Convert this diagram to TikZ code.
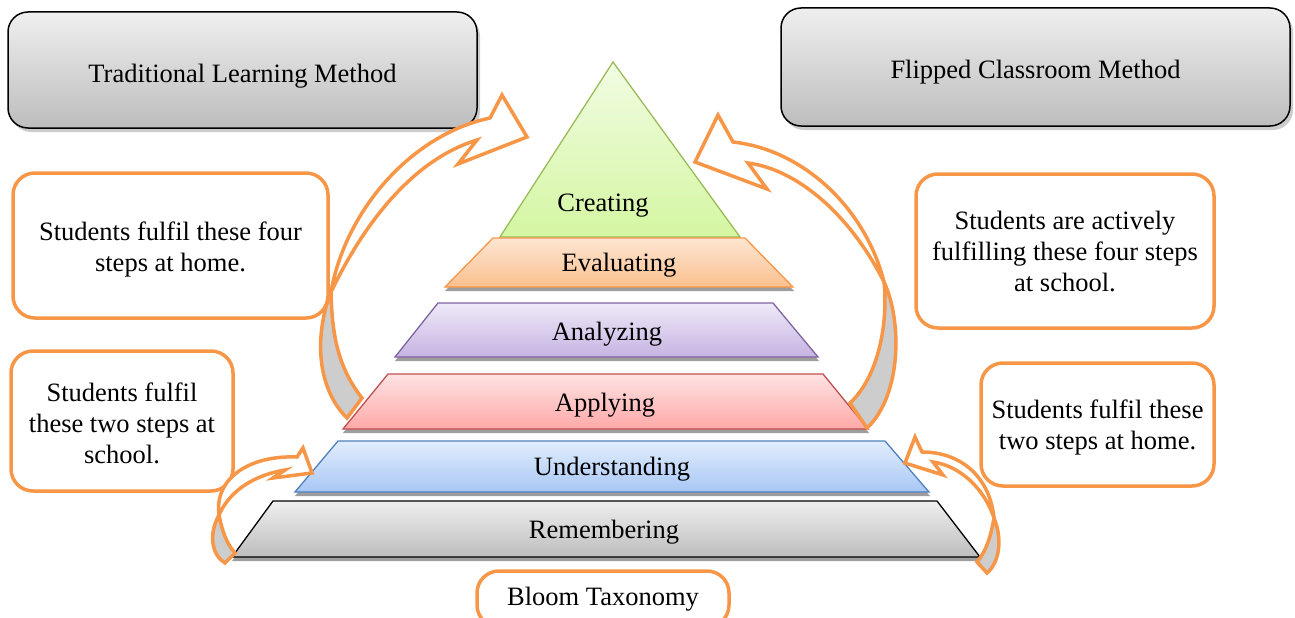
\documentclass[tikz,border=0pt]{standalone}
\usepackage{fontspec}
\setmainfont{Liberation Serif}
\usetikzlibrary{shadows}

% layer colours: T = top of the shading, B = bottom, L = outline
\definecolor{creaT}{HTML}{F1FCE3}
\definecolor{creaB}{HTML}{D4F6A2}
\definecolor{creaL}{HTML}{9BBB59}
\definecolor{evalT}{HTML}{FDE6D3}
\definecolor{evalB}{HTML}{FBC08E}
\definecolor{evalL}{HTML}{F79646}
\definecolor{analT}{HTML}{EFE9F8}
\definecolor{analB}{HTML}{C6B3E2}
\definecolor{analL}{HTML}{8064A2}
\definecolor{applT}{HTML}{FEE3E3}
\definecolor{applB}{HTML}{FFA8A8}
\definecolor{applL}{HTML}{C0504D}
\definecolor{undeT}{HTML}{E2EDFD}
\definecolor{undeB}{HTML}{A8C7F5}
\definecolor{undeL}{HTML}{4F81BD}
\definecolor{remeT}{HTML}{EFEFEF}
\definecolor{remeB}{HTML}{BDBDBD}
\definecolor{remeL}{HTML}{000000}
\definecolor{noteL}{HTML}{F79646}
\definecolor{backF}{HTML}{CDCDCD}

\tikzset{
  header/.style    = {draw=black, line width=1.5pt, rounded corners=20pt,
                      top color=remeT, bottom color=remeB,
                      drop shadow={shadow xshift=3pt, shadow yshift=-4pt,
                                   fill=black!40}},
  note/.style      = {draw=noteL, line width=3.5pt, rounded corners=22pt,
                      fill=white, align=center, inner sep=0pt},
  bendfront/.style = {draw=noteL, line width=3.5pt, fill=white,
                      line join=miter},
  bendback/.style  = {bendfront, fill=backF},
  laydrop/.style   = {fill=black!38},
}

\begin{document}
\begin{tikzpicture}[
  x=1pt, y=-1pt,
  every node/.style = {font=\fontsize{26.5}{31}\selectfont, inner sep=0pt}]

  \useasboundingbox (0,0) rectangle (1295,618);

  % headers
  \node[header, minimum width=469, minimum height=116] (trad) at (242.5,70) {};
  \node[yshift=-6.5pt] (tradtxt) at (trad.center) {Traditional Learning Method};
  \node[header, minimum width=509, minimum height=118] (flip) at (1035.5,67) {};
  \node[yshift=-5.5pt] (fliptxt) at (flip.center) {Flipped Classroom Method};

  % pyramid
  \path[draw=creaL, line width=1.3pt, top color=creaT, bottom color=creaB]
    (613,62) -- (740,237) -- (500,237) -- cycle;
  \node (creating) at (603,206) {Creating};

  \foreach \nm/\lbl/\clr/\yt/\yb/\xa/\xb/\xc/\xd/\tx/\ty in {
      evaluating/Evaluating/eval/238/287/493/745/445/793/619/265,
      analyzing/Analyzing/anal/303/357/438/773/395/818/607/334,
      applying/Applying/appl/374/429/388/823/343/868/605/405,
      understanding/Understanding/unde/441/492/338/885/295/929/612/469,
      remembering/Remembering/reme/501/557/273/937/232/980/604/532}
  {
    \fill[laydrop] (\xa,\yt+4) -- (\xb+1,\yt+4) -- (\xd+1,\yb+4) -- (\xc,\yb+4) -- cycle;
    \path[draw=\clr L, line width=1.3pt, top color=\clr T, bottom color=\clr B]
      (\xa,\yt) -- (\xb,\yt) -- (\xd,\yb) -- (\xc,\yb) -- cycle;
    \node (\nm) at (\tx,\ty) {\lbl};
  }

  % side notes (the rule pushes the lines a little down in the box)
  \node[note, minimum width=315, minimum height=145] (homefour) at (170.5,245.5)
    {\rule{0pt}{26pt}Students fulfil these four\\steps at home.};
  \node[note, minimum width=222, minimum height=140] (schooltwo) at (122,421)
    {\rule{0pt}{24pt}Students fulfil\\these two steps at\\school.};
  \node[note, minimum width=298, minimum height=154] (schoolfour) at (1065,251)
    {Students are actively\\fulfilling these four steps\\at school.};
  \node[note, minimum width=233, minimum height=123] (hometwo) at (1097.5,424.5)
    {\rule{0pt}{24pt}Students fulfil these\\two steps at home.};
  \node[note, minimum width=252, minimum height=56] (bloom) at (603,599)
    {Bloom Taxonomy};

  % curved arrows, left side
  \path[bendback] (331,292) .. controls (316,330) and (314,385) .. (347,418)
    -- (362,398) .. controls (336,365) and (332,330) .. (331,292) -- cycle;
  \path[bendfront] (331,292) .. controls (345,212) and (410,135) .. (490,118)
    -- (502,95) -- (527,137) -- (458,164) -- (477,140)
    .. controls (418,158) and (368,215) .. (331,292) -- cycle;

  \path[bendback] (219,515) .. controls (208,535) and (212,555) .. (225,563)
    -- (235,553) .. controls (226,543) and (222,530) .. (219,515) -- cycle;
  \path[bendfront] (219,515) .. controls (214,478) and (250,455) .. (297,457)
    -- (303,448) -- (312,473) -- (273,478) -- (285,470)
    .. controls (255,475) and (230,490) .. (219,515) -- cycle;

  % curved arrows, right side
  \path[bendback] (884,282) .. controls (902,320) and (902,395) .. (867,428)
    -- (850,403) .. controls (880,375) and (888,320) .. (884,282) -- cycle;
  \path[bendfront] (884,282) .. controls (866,210) and (805,150) .. (733,142)
    -- (718,115) -- (695,162) -- (767,189) -- (748,163)
    .. controls (800,170) and (852,218) .. (884,282) -- cycle;

  \path[bendback] (994,518) .. controls (1003,540) and (999,563) .. (987,573)
    -- (977,562) .. controls (987,550) and (991,535) .. (994,518) -- cycle;
  \path[bendfront] (994,518) .. controls (990,478) and (962,452) .. (922,452)
    -- (915,437) -- (905,463) -- (943,475) -- (933,462)
    .. controls (960,466) and (984,488) .. (994,518) -- cycle;
\end{tikzpicture}
\end{document}
